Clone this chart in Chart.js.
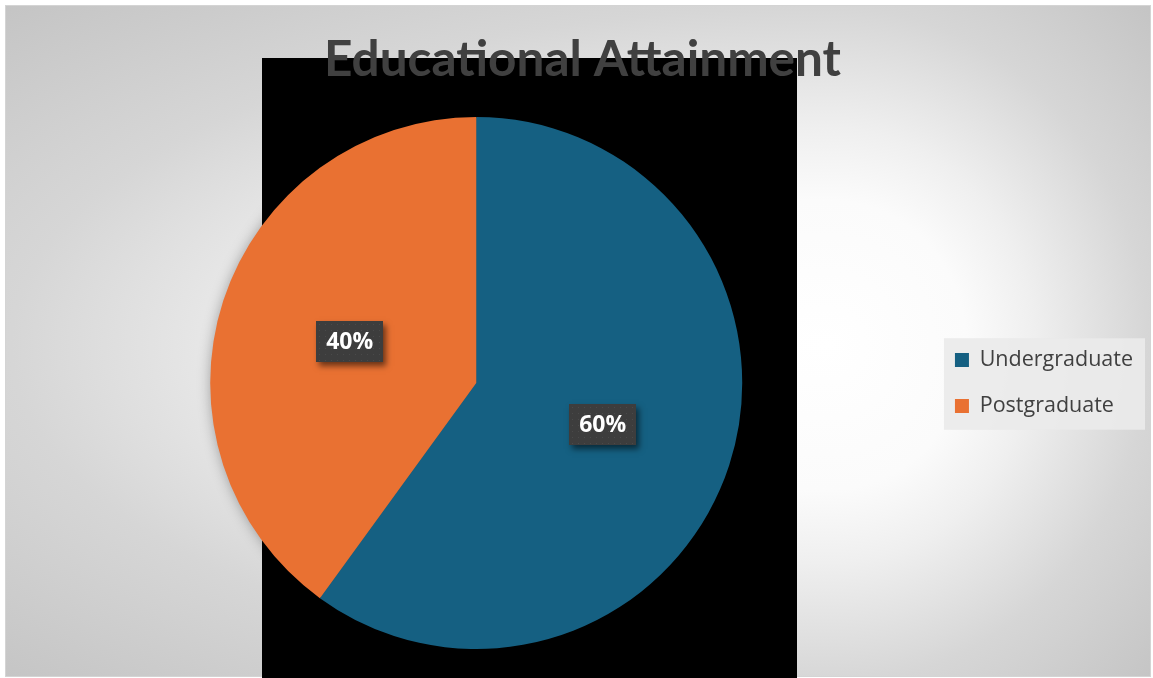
<!DOCTYPE html>
<html><head><meta charset="utf-8">
<script src="https://cdn.jsdelivr.net/npm/chart.js@4.4.1/dist/chart.umd.min.js"></script>
<style>html,body{margin:0;padding:0;background:#fff;overflow:hidden}
#wrap{position:relative;width:1153px;height:678px}
canvas{display:block}
</style></head><body><div id="wrap"><canvas id="c" width="1153" height="678"></canvas></div>
<script>
const categories = ['Undergraduate', 'Postgraduate'];
const values = [60, 40];
const colors = ['#156082', '#E97132'];
const titleText = 'Educational Attainment';

function fillHalf(ctx, clipX, clipW, cx, cy, rx, ry) {
  ctx.save();
  ctx.beginPath();
  ctx.rect(clipX, 6, clipW, 670);
  ctx.clip();
  ctx.translate(cx, cy);
  ctx.scale(rx / ry, 1);
  const R = ry * 1.42;
  const g = ctx.createRadialGradient(0, 0, 0, 0, 0, R);
  g.addColorStop(0, '#ffffff');
  g.addColorStop(0.3, '#fbfbfb');
  g.addColorStop(0.45, '#efefef');
  g.addColorStop(0.7, '#d6d6d6');
  g.addColorStop(1, '#c4c4c4');
  ctx.fillStyle = g;
  ctx.fillRect(-2000, -2000, 4000, 4000);
  ctx.restore();
}

const backdrop = {
  id: 'backdrop',
  beforeDraw(chart) {
    const ctx = chart.ctx;
    ctx.save();
    ctx.fillStyle = '#ffffff';
    ctx.fillRect(0, 0, chart.width, chart.height);
    const cx = 830, cy = 345;
    fillHalf(ctx, 6, cx - 6, cx, cy, cx - 6, 340);
    fillHalf(ctx, cx, 1150 - cx, cx, cy, 1150 - cx, 340);
    ctx.strokeStyle = '#d4d4d4';
    ctx.lineWidth = 1;
    ctx.strokeRect(5.5, 5.5, 1145, 671);
    // black plot backdrop
    ctx.fillStyle = '#000000';
    ctx.fillRect(262, 58, 535, 620);
    // legend backdrop
    const lg = chart.legend;
    if (lg && lg.legendHitBoxes && lg.legendHitBoxes.length) {
      const hb = lg.legendHitBoxes;
      const x0 = hb[0].left - 11;
      const y0 = hb[0].top - 11;
      const last = hb[hb.length - 1];
      ctx.fillStyle = 'rgba(234,234,234,0.92)';
      ctx.fillRect(x0, y0, 1145 - x0, (last.top + last.height) - y0 + 13);
    }
    ctx.restore();
  },
  beforeDatasetsDraw(chart) {
    const meta = chart.getDatasetMeta(0);
    const a = meta.data[0];
    if (!a) return;
    const ctx = chart.ctx;
    ctx.save();
    ctx.shadowColor = 'rgba(0,0,0,0.35)';
    ctx.shadowBlur = 14;
    ctx.fillStyle = '#555';
    ctx.beginPath();
    ctx.arc(a.x, a.y, a.outerRadius - 1, 0, Math.PI * 2);
    ctx.fill();
    ctx.restore();
  },
  afterDatasetsDraw(chart) {
    const meta = chart.getDatasetMeta(0);
    const data = chart.data.datasets[0].data;
    const total = data.reduce((s, v) => s + v, 0);
    const ctx = chart.ctx;
    meta.data.forEach((arc, i) => {
      const p = arc.tooltipPosition();
      const txt = Math.round(data[i] / total * 100) + '%';
      ctx.save();
      ctx.font = 'bold 23px "Open Sans"';
      const w = Math.round(ctx.measureText(txt).width + 20);
      const h = 41;
      const bx = Math.round(p.x - w / 2), by = Math.round(p.y - h / 2);
      ctx.shadowColor = 'rgba(0,0,0,0.55)';
      ctx.shadowBlur = 6;
      ctx.shadowOffsetX = 3;
      ctx.shadowOffsetY = 4;
      ctx.fillStyle = '#3d3d3d';
      ctx.fillRect(bx, by, w, h);
      ctx.shadowColor = 'transparent';
      ctx.fillStyle = 'rgba(255,255,255,0.07)';
      for (let yy = by + 3; yy < by + h; yy += 6) {
        for (let xx = bx + 3; xx < bx + w; xx += 6) ctx.fillRect(xx, yy, 1, 1);
      }
      ctx.fillStyle = '#ffffff';
      ctx.textAlign = 'center';
      ctx.textBaseline = 'middle';
      ctx.fillText(txt, p.x, p.y + 1);
      ctx.restore();
    });
  }
};

new Chart(document.getElementById('c'), {
  type: 'pie',
  data: {
    labels: categories,
    datasets: [{
      data: values,
      backgroundColor: colors,
      borderWidth: 0
    }]
  },
  options: {
    responsive: false,
    animation: false,
    devicePixelRatio: 1,
    layout: { padding: { left: 22, right: 10, top: 0, bottom: 29 } },
    plugins: {
      tooltip: { enabled: false },
      title: {
        display: true,
        text: titleText,
        color: '#404040',
        font: { family: 'Lato', size: 49.5, weight: 'bold', lineHeight: 1.2 },
        padding: { top: 30, bottom: 27.6 }
      },
      legend: {
        position: 'right',
        fullSize: false,
        labels: {
          boxWidth: 14,
          boxHeight: 14,
          padding: 24.5,
          color: '#404040',
          font: { family: 'Open Sans', size: 21.5 }
        }
      }
    }
  },
  plugins: [backdrop]
});
</script>
</body></html>
